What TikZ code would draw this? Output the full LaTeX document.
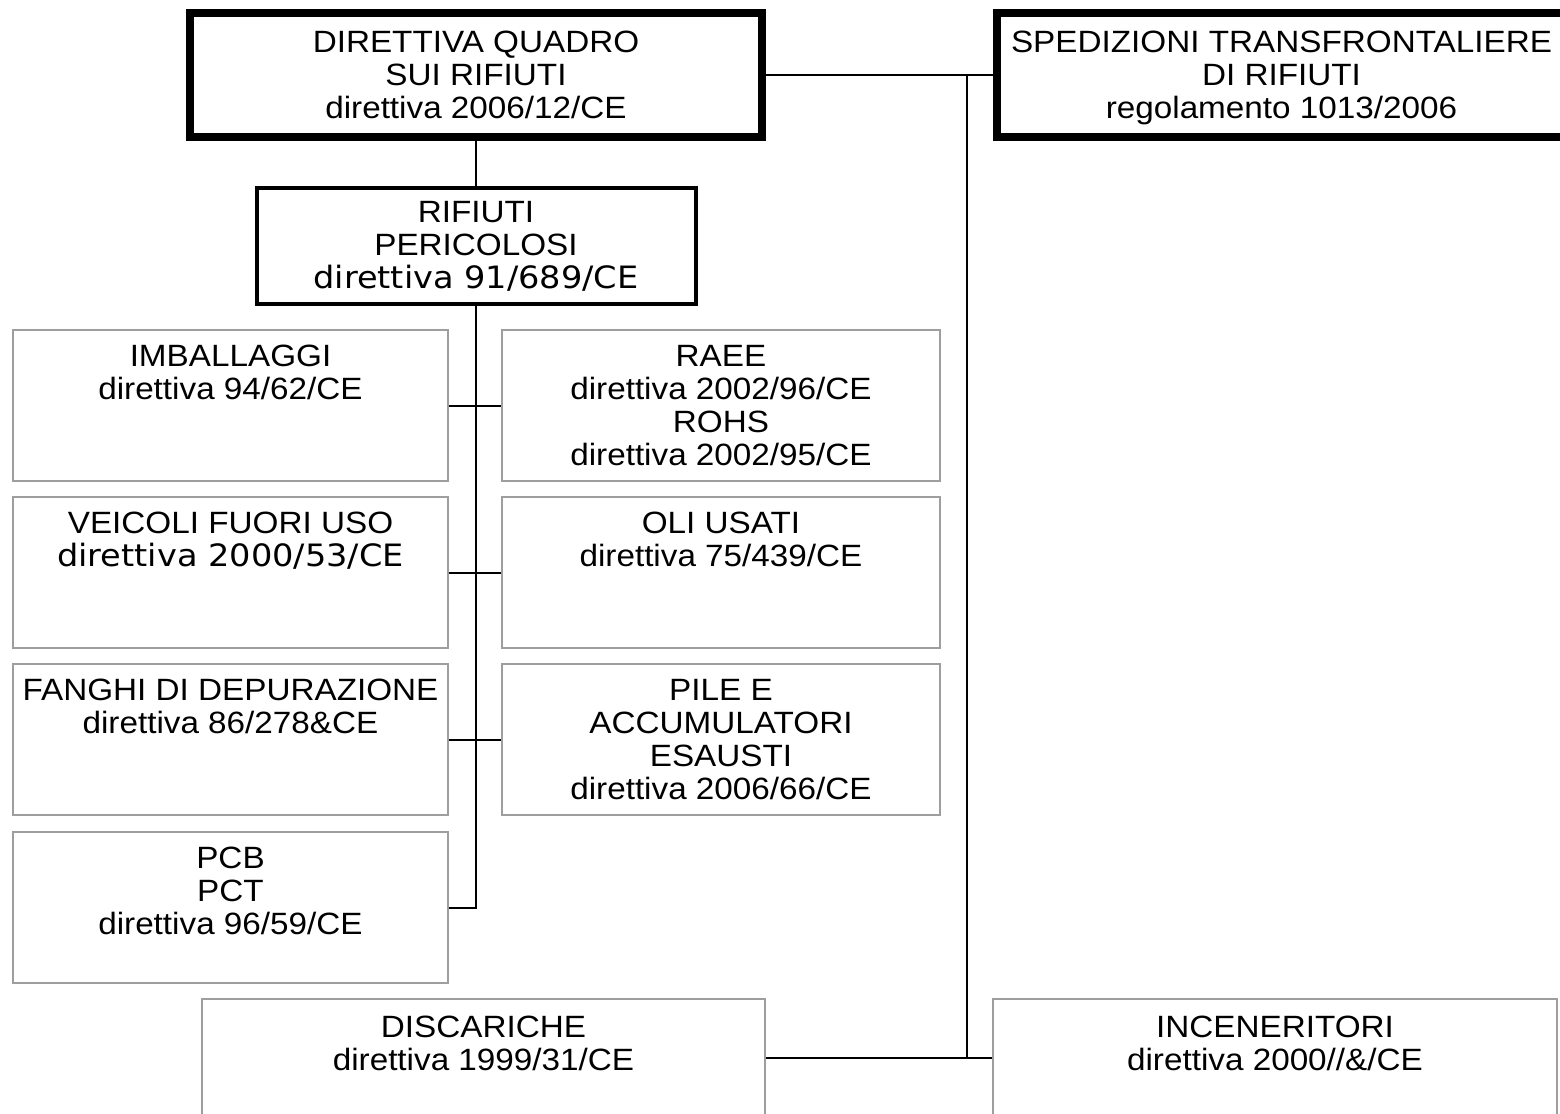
\documentclass[tikz,border=0pt]{standalone}
\usepackage{fontspec}
\setmainfont{Liberation Sans}[FakeStretch=1.08]
\newfontfamily\verdfont{DejaVu Sans}[FakeStretch=1.09]
\usetikzlibrary{positioning}
\definecolor{boxgrey}{gray}{0.62}
\tikzstyle{greybox}=[draw=boxgrey, line width=1pt, inner sep=0pt]
\tikzstyle{heavybox}=[draw=black, line width=4pt, inner sep=0pt]
\tikzstyle{midbox}=[draw=black, line width=2pt, inner sep=0pt]
\tikzstyle{leftbox}=[greybox, minimum width=217.5pt, minimum height=75.5pt]
\tikzstyle{rightbox}=[greybox, minimum width=219pt, minimum height=75.5pt]
\tikzstyle{law}=[anchor=north, align=center, inner sep=0pt, font=\fontsize{15.4pt}{16.5pt}\selectfont, execute at begin node=\rule{0pt}{11pt}]
\tikzstyle{wire}=[line width=1pt]
\def\gap{7.8pt}
\def\heavygap{10.6pt}

\begin{document}
\begin{tikzpicture}[x=0.5pt, y=-0.5pt]
\useasboundingbox (0,0) rectangle (1560,1114);
\clip (0,0) rectangle (1560,1114);
% framework and shipments
\node[heavybox, minimum width=286pt, minimum height=62pt] (quadro) at (476,75.4) {};
\node[heavybox, minimum width=284.5pt, minimum height=62pt] (sped) at (1281.5,75.4) {};
\node[midbox, minimum width=219.5pt, minimum height=58pt] (peric) at (476,246) {};
% waste streams
\node[leftbox] (imb) at (230.5,405.5) {};
\node[rightbox] (raee) at (721,405.5) {};
\node[leftbox] (veic) at (230.5,572.5) {};
\node[rightbox] (oli) at (721,572.5) {};
\node[leftbox] (fanghi) at (230.5,739.5) {};
\node[rightbox] (pile) at (721,739.5) {};
\node[leftbox] (pcb) at (230.5,907.5) {};
% plants
\node[greybox, minimum width=281.5pt, minimum height=59pt] (disc) at (483.5,1058) {};
\node[greybox, minimum width=282pt, minimum height=59pt] (inc) at (1275,1058) {};

\node[law, below=\heavygap of quadro.north] (quadro-t) {DIRETTIVA QUADRO\\SUI RIFIUTI\\direttiva 2006/12/CE};
\node[law, below=\heavygap of sped.north] (sped-t) {SPEDIZIONI TRANSFRONTALIERE\\DI RIFIUTI\\regolamento 1013/2006};
\node[law, below=7.5pt of peric.north] (peric-t) {RIFIUTI\\PERICOLOSI\\{\verdfont direttiva 91/689/CE}};
\node[law, below=\gap of imb.north] (imb-t) {IMBALLAGGI\\direttiva 94/62/CE};
\node[law, below=\gap of raee.north] (raee-t) {RAEE\\direttiva 2002/96/CE\\ROHS\\direttiva 2002/95/CE};
\node[law, below=\gap of veic.north] (veic-t) {VEICOLI FUORI USO\\{\verdfont direttiva 2000/53/CE}};
\node[law, below=\gap of oli.north] (oli-t) {OLI USATI\\direttiva 75/439/CE};
\node[law, below=\gap of fanghi.north] (fanghi-t) {FANGHI DI DEPURAZIONE\\direttiva 86/278\&CE};
\node[law, below=\gap of pile.north] (pile-t) {PILE E\\ACCUMULATORI\\ESAUSTI\\direttiva 2006/66/CE};
\node[law, below=\gap of pcb.north] (pcb-t) {PCB\\PCT\\direttiva 96/59/CE};
\node[law, below=9pt of disc.north] (disc-t) {DISCARICHE\\direttiva 1999/31/CE};
\node[law, below=9pt of inc.north] (inc-t) {INCENERITORI\\direttiva 2000//\&/CE};

\coordinate (tap) at (967,75.4);
\draw[wire] (quadro.south) -- (peric.north);
\draw[wire] (peric.south) |- (pcb.east);
\draw[wire] (imb.east) -- (raee.west);
\draw[wire] (veic.east) -- (oli.west);
\draw[wire] (fanghi.east) -- (pile.west);
\draw[wire] (quadro.east) -- (sped.west);
\draw[wire] (tap) |- (disc.east);
\draw[wire] (disc.east) -- (inc.west);
\end{tikzpicture}
\end{document}
